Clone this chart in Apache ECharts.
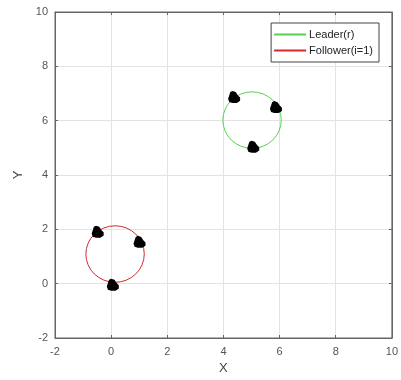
<!DOCTYPE html>
<html><head><meta charset="utf-8">
<script src="https://cdn.jsdelivr.net/npm/echarts@6/dist/echarts.min.js"></script>
<style>html,body{margin:0;padding:0;background:#fff}#c{width:401px;height:380px}</style>
</head><body><div id="c"></div>
<script>
const xTicks = [-2, 0, 2, 4, 6, 8, 10];
const yTicks = [-2, 0, 2, 4, 6, 8, 10];
const seriesNames = ['Leader(r)', 'Follower(i=1)'];
// circle trajectories: [centerX, centerY, radius]
const leaderCircle = [[5.02, 6.02, 1.04]];
const followerCircle = [[0.14, 1.09, 1.04]];
// robot positions
const leaderRobots = [[4.38, 6.87], [5.87, 6.5], [5.06, 5.04]];
const followerRobots = [[-0.48, 1.91], [1.01, 1.54], [0.06, -0.04]];

const colors = ['#55d055', '#d42a2a'];
const chart = echarts.init(document.getElementById('c'));

function circleRender(color) {
  return function (params, api) {
    const c = api.coord([api.value(0), api.value(1)]);
    const s = api.size([api.value(2), api.value(2)]);
    const rx = s[0], ry = s[1];
    const d = 'M' + (c[0] - rx) + ' ' + c[1] +
      ' A ' + rx + ' ' + ry + ' 0 1 0 ' + (c[0] + rx) + ' ' + c[1] +
      ' A ' + rx + ' ' + ry + ' 0 1 0 ' + (c[0] - rx) + ' ' + c[1] + ' Z';
    return { type: 'path', shape: { pathData: d }, style: { fill: 'none', stroke: color, lineWidth: 1 } };
  };
}

const robotSymbol = 'path://M4,0 L7,1 L9,4 L11,6 L11,9 L8,11 L4,11 L1,10 L0,7 L1,4 L2,1 Z';
const axisText = { color: '#555', fontFamily: 'Liberation Sans', fontSize: 11 };
const gridLine = { show: true, lineStyle: { color: '#e3e3e3', width: 1 } };

chart.setOption({
  animation: false,
  grid: { left: 55, right: 8, top: 12, bottom: 42, show: true, borderColor: '#666', borderWidth: 1 },
  legend: {
    orient: 'vertical', right: 22, top: 23,
    itemWidth: 32, itemHeight: 2, itemGap: 5,
    padding: [6, 6, 6, 3],
    borderColor: '#444', borderWidth: 1, backgroundColor: '#fff',
    textStyle: { color: '#222', fontFamily: 'Liberation Sans', fontSize: 11, padding: [0, 0, 0, -2] },
    data: [{ name: seriesNames[0], icon: 'rect' }, { name: seriesNames[1], icon: 'rect' }]
  },
  xAxis: [{
    type: 'value', min: xTicks[0], max: xTicks[xTicks.length - 1], interval: 2,
    name: 'X', nameLocation: 'middle', nameGap: 24,
    nameTextStyle: { color: '#444', fontFamily: 'Liberation Sans', fontSize: 13 },
    axisLine: { show: true, onZero: false, lineStyle: { color: '#666' } },
    axisTick: { show: true, inside: true, length: 3, lineStyle: { color: '#666' } },
    axisLabel: Object.assign({ margin: 8 }, axisText),
    splitLine: gridLine
  }, {
    type: 'value', position: 'top', min: xTicks[0], max: xTicks[xTicks.length - 1], interval: 2,
    axisLine: { show: true, onZero: false, lineStyle: { color: '#666' } },
    axisTick: { show: true, inside: true, length: 3, lineStyle: { color: '#666' } },
    axisLabel: { show: false }, splitLine: { show: false }
  }],
  yAxis: [{
    type: 'value', min: yTicks[0], max: yTicks[yTicks.length - 1], interval: 2,
    name: 'Y', nameLocation: 'middle', nameGap: 30,
    nameTextStyle: { color: '#444', fontFamily: 'Liberation Sans', fontSize: 13 },
    axisLine: { show: true, onZero: false, lineStyle: { color: '#666' } },
    axisTick: { show: true, inside: true, length: 3, lineStyle: { color: '#666' } },
    axisLabel: Object.assign({ margin: 7 }, axisText),
    splitLine: gridLine
  }, {
    type: 'value', position: 'right', min: yTicks[0], max: yTicks[yTicks.length - 1], interval: 2,
    axisLine: { show: true, onZero: false, lineStyle: { color: '#666' } },
    axisTick: { show: true, inside: true, length: 3, lineStyle: { color: '#666' } },
    axisLabel: { show: false }, splitLine: { show: false }
  }],
  series: [
    { name: seriesNames[0], type: 'custom', xAxisIndex: 0, yAxisIndex: 0, data: leaderCircle,
      itemStyle: { color: colors[0] }, renderItem: circleRender(colors[0]), z: 2 },
    { name: seriesNames[1], type: 'custom', xAxisIndex: 0, yAxisIndex: 0, data: followerCircle,
      itemStyle: { color: colors[1] }, renderItem: circleRender(colors[1]), z: 2 },
    { name: 'leaderRobots', type: 'scatter', data: leaderRobots, symbol: robotSymbol, symbolSize: 12,
      itemStyle: { color: '#000', opacity: 1 }, z: 5 },
    { name: 'followerRobots', type: 'scatter', data: followerRobots, symbol: robotSymbol, symbolSize: 12,
      itemStyle: { color: '#000', opacity: 1 }, z: 5 }
  ]
});
</script></body></html>
